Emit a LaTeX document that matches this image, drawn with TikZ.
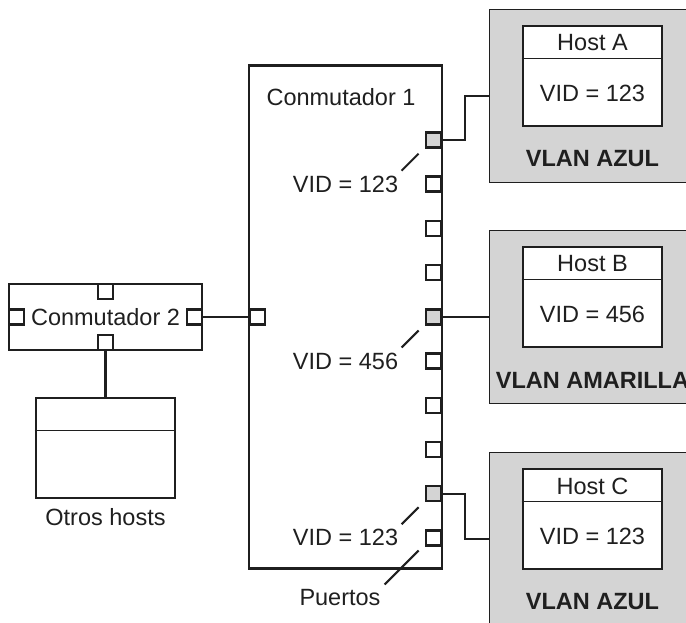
\documentclass[tikz,border=0pt]{standalone}
\usepackage{fontspec}
\setmainfont{Liberation Sans}
\usetikzlibrary{positioning}
\definecolor{vlangray}{gray}{0.83}
\definecolor{ink}{gray}{0.12}
\newcommand{\bigtxt}{\fontsize{23.5}{28}\selectfont}

\begin{document}
\begin{tikzpicture}[x=1pt, y=-1pt, font=\bigtxt, color=ink,
    box/.style={draw, line width=2.7pt, inner sep=0pt},
    port/.style={draw, line width=2.4pt, minimum size=15pt, inner sep=0pt, fill=white},
    tagged/.style={port, fill=vlangray},
    wire/.style={line width=2.2pt},
    leader/.style={line width=2pt},
    vidlbl/.style={anchor=east, inner sep=0pt},
    vlanbox/.style={draw, line width=0.9pt, fill=vlangray, minimum width=240pt, minimum height=173pt}]
    \useasboundingbox (0,0) rectangle (686,623);
    \clip (0,0) rectangle (686,623);

    % VLANs with their hosts
    \foreach \h/\y/\vid/\col in {A/9/123/AZUL, B/230/456/AMARILLA, C/452/123/AZUL} {
        \begin{scope}[shift={(0,\y)}]
            \node[vlanbox, anchor=north west] (vlan\h) at (489,0) {};
            \node[box, minimum width=139pt, minimum height=100pt, fill=white] (host\h) at (592.5,67) {};
            \draw[line width=0.9pt] ([yshift=-34pt]host\h.north west) -- ([yshift=-34pt]host\h.north east);
            \node (name\h) at (592.5,34) {Host \h};
            \node (vid\h) at (592.5,84) {VID = \vid};
            \node[font=\bigtxt\bfseries] (col\h) at (592.5,150) {VLAN \col};
        \end{scope}
    }

    % Switch 1
    \node[box, minimum width=193pt, minimum height=503.5pt] (sw1) at (345.5,317) {};
    \node (sw1name) at (341,97) {Conmutador 1};
    \foreach \i in {2,3,4,6,7,8,10}
        \node[port, anchor=east] (p\i) at (442,{140+44.2*(\i-1)}) {};
    \foreach \i in {1,5,9}
        \node[tagged, anchor=east] (p\i) at (442,{140+44.2*(\i-1)}) {};
    \node[port, anchor=west] (pL) at (249,317) {};

    % Switch 2
    \node[box, minimum width=193pt, minimum height=66pt] (sw2) at (105.5,317) {Conmutador 2};
    \node[port, anchor=north] (sw2t) at (sw2.north) {};
    \node[port, anchor=south] (sw2b) at (sw2.south) {};
    \node[port, anchor=west] (sw2l) at (sw2.west) {};
    \node[port, anchor=east] (sw2r) at (sw2.east) {};

    % Other hosts
    \node[box, minimum width=139pt, minimum height=100pt] (others) at (105.5,448) {};
    \draw[line width=0.9pt] ([yshift=-34pt]others.north west) -- ([yshift=-34pt]others.north east);
    \node (otros) at (105.5,517) {Otros hosts};

    % Links
    \draw[wire] (sw2r.east) -- (pL.west);
    \draw[wire] (sw2b.south) -- (others.north);
    \draw[wire] (p1.east) -- ++(23,0) |- (vlanA.west);
    \draw[wire] (p5.east) -- (p5.east -| vlanB.west);
    \draw[wire] (p9.east) -- ++(23,0) |- (vlanC.west);

    % VID labels
    \foreach \i/\v in {1/123, 5/456, 9/123} {
        \pgfmathtruncatemacro{\j}{\i+1}
        \node[vidlbl] (lbl\i) at ([xshift=-35pt]p\j.center) {VID = \v};
        \draw[leader] ([shift={(-6pt,-5pt)}]p\i.south west) -- ++(-17,17);
    }
    \node (puertos) at (340,598) {Puertos};
    \draw[leader] ([shift={(-6pt,-4pt)}]p10.south west) -- ++(-34,34);
\end{tikzpicture}
\end{document}
